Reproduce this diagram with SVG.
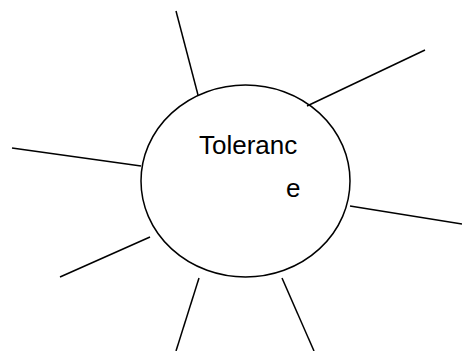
<svg xmlns="http://www.w3.org/2000/svg" width="462" height="351" viewBox="0 0 462 351">
<style>
.ln{stroke:#000;stroke-width:1.5;fill:none}
.lbl{font-family:"Liberation Sans",Arial,sans-serif;font-size:26px;fill:#000}
</style>
<rect width="462" height="351" fill="#fff"/>
<g id="connectors">
<line class="ln" x1="176" y1="11" x2="198" y2="95"/>
<line class="ln" x1="425" y1="50" x2="307" y2="106"/>
<line class="ln" x1="12" y1="148" x2="141" y2="166"/>
<line class="ln" x1="350" y1="206" x2="462" y2="224"/>
<line class="ln" x1="150" y1="237" x2="60" y2="277"/>
<line class="ln" x1="199" y1="278" x2="176" y2="351"/>
<line class="ln" x1="282" y1="278" x2="314" y2="351"/>
</g>
<g id="tolerance">
<ellipse class="ln" cx="245.5" cy="181" rx="104.5" ry="96"/>
<text class="lbl" x="199" y="154">Toleranc</text>
<text class="lbl" x="286" y="197">e</text>
</g>
</svg>
